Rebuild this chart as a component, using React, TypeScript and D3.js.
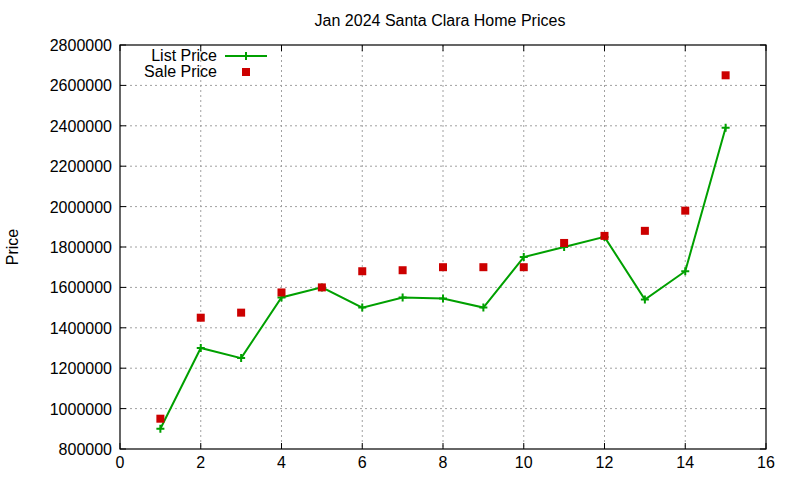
import * as d3 from "d3";

const months = [1, 2, 3, 4, 5, 6, 7, 8, 9, 10, 11, 12, 13, 14, 15];
const listPrice = [
  900000, 1300000, 1250000, 1550000, 1600000, 1500000, 1550000, 1545000,
  1500000, 1750000, 1800000, 1850000, 1540000, 1680000, 2390000,
];
const salePrice = [
  950000, 1450000, 1475000, 1575000, 1600000, 1680000, 1685000, 1700000,
  1700000, 1700000, 1820000, 1855000, 1880000, 1980000, 2650000,
];
const xTicks = [0, 2, 4, 6, 8, 10, 12, 14, 16];
const yTicks = [
  800000, 1000000, 1200000, 1400000, 1600000, 1800000, 2000000, 2200000,
  2400000, 2600000, 2800000,
];

const W = 800;
const H = 480;
const M = { top: 45, right: 34, bottom: 31, left: 120 };
const FONT = "'Liberation Sans', Arial, sans-serif";
const GREEN = "#00a000";
const RED = "#cc0000";
const TICK = 6;

const App = () => {
  const x = d3.scaleLinear().domain([0, 16]).range([M.left, W - M.right]);
  const y = d3.scaleLinear().domain([800000, 2800000]).range([H - M.bottom, M.top]);
  const line = d3
    .line<number>()
    .x((_, i) => x(months[i]))
    .y((d) => y(d));

  const [x0, x1] = x.range();
  const [y0, y1] = y.range();

  const plus = (cx: number, cy: number, key: string) => (
    <path
      key={key}
      d={`M${cx - 4},${cy}H${cx + 4}M${cx},${cy - 4}V${cy + 4}`}
      stroke={GREEN}
      strokeWidth={2}
    />
  );

  return (
    <svg
      width={W}
      height={H}
      style={{ position: "absolute", left: 0, top: 0, background: "#fff" }}
      fontFamily={FONT}
      fontSize={16}
    >
      <text x={440} y={26} textAnchor="middle">
        Jan 2024 Santa Clara Home Prices
      </text>

      {/* grid */}
      {xTicks.slice(1, -1).map((t) => (
        <line
          key={`gx${t}`}
          x1={x(t)}
          x2={x(t)}
          y1={y1}
          y2={y0}
          stroke="#a0a0a0"
          strokeDasharray="2,3"
        />
      ))}
      {yTicks.slice(1, -1).map((t) => (
        <line
          key={`gy${t}`}
          x1={x0}
          x2={x1}
          y1={y(t)}
          y2={y(t)}
          stroke="#a0a0a0"
          strokeDasharray="2,3"
        />
      ))}

      {/* ticks on all sides */}
      {xTicks.map((t) => (
        <g key={`tx${t}`} stroke="#000">
          <line x1={x(t)} x2={x(t)} y1={y0} y2={y0 - TICK} />
          <line x1={x(t)} x2={x(t)} y1={y1} y2={y1 + TICK} />
        </g>
      ))}
      {yTicks.map((t) => (
        <g key={`ty${t}`} stroke="#000">
          <line x1={x0} x2={x0 + TICK} y1={y(t)} y2={y(t)} />
          <line x1={x1} x2={x1 - TICK} y1={y(t)} y2={y(t)} />
        </g>
      ))}
      <rect
        x={x0}
        y={y1}
        width={x1 - x0}
        height={y0 - y1}
        fill="none"
        stroke="#000"
        strokeWidth={1.2}
      />

      {xTicks.map((t) => (
        <text key={`lx${t}`} x={x(t)} y={y0 + 19} textAnchor="middle">
          {t}
        </text>
      ))}
      {yTicks.map((t) => (
        <text key={`ly${t}`} x={x0 - 8} y={y(t) + 6} textAnchor="end">
          {t}
        </text>
      ))}
      <text
        transform={`translate(18, ${(y0 + y1) / 2}) rotate(-90)`}
        textAnchor="middle"
      >
        Price
      </text>

      {/* series */}
      <path d={line(listPrice) ?? ""} fill="none" stroke={GREEN} strokeWidth={2} />
      {listPrice.map((v, i) => plus(x(months[i]), y(v), `p${i}`))}
      {salePrice.map((v, i) => (
        <rect
          key={`s${i}`}
          x={x(months[i]) - 4}
          y={y(v) - 4}
          width={8}
          height={8}
          fill={RED}
        />
      ))}

      {/* legend */}
      <text x={217} y={61} textAnchor="end">
        List Price
      </text>
      <line x1={225} x2={267} y1={56} y2={56} stroke={GREEN} strokeWidth={2} />
      {plus(246, 56, "lg")}
      <text x={217} y={77} textAnchor="end">
        Sale Price
      </text>
      <rect x={242} y={68} width={8} height={8} fill={RED} />
    </svg>
  );
};

export default App;
